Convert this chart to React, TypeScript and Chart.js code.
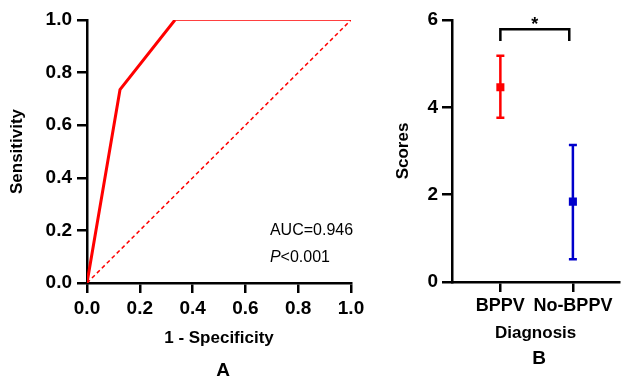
import React, { useEffect, useRef } from "react";
import { Chart, registerables } from "chart.js";

Chart.register(...registerables);

// ---- Panel A: ROC curve ----
const rocFpr = [0, 0.125, 0.333, 1.0];
const rocTpr = [0, 0.735, 1.0, 1.0];
const refLine = [0, 1];
const rocTicks = [0, 0.2, 0.4, 0.6, 0.8, 1.0];
const aucText = "AUC=0.946";
const pText = "<0.001";

// ---- Panel B: scores by diagnosis ----
const categories = ["BPPV", "No-BPPV"];
const means = [4.46, 1.84];
const upper = [5.18, 3.14];
const lower = [3.76, 0.52];
const groupColors = ["#ff0000", "#0000cc"];
const scoreTicks = [0, 2, 4, 6];
const bracketX = [0, 0.95];
const bracketY = [5.52, 5.79];
const sigMark = "*";

const FONT = '"Liberation Sans", Arial, sans-serif';

const annotA = {
  id: "annotA",
  afterDraw(chart: any) {
    const { ctx, scales } = chart;
    const x = scales.x, y = scales.y;
    ctx.save();
    ctx.fillStyle = "#000";
    ctx.textAlign = "left";
    ctx.textBaseline = "middle";
    const px = x.getPixelForValue(0.693);
    ctx.font = `16px ${FONT}`;
    ctx.fillText(aucText, px, y.getPixelForValue(0.198));
    const py = y.getPixelForValue(0.095);
    ctx.font = `italic 16px ${FONT}`;
    ctx.fillText("P", px, py);
    const w = ctx.measureText("P").width;
    ctx.font = `16px ${FONT}`;
    ctx.fillText(pText, px + w, py);
    ctx.restore();
  },
};

const errorBars = {
  id: "errorBars",
  beforeDatasetsDraw(chart: any) {
    const { ctx, scales } = chart;
    const x = scales.x, y = scales.y;
    ctx.save();
    categories.forEach((_, i) => {
      const px = x.getPixelForValue(i);
      const top = y.getPixelForValue(upper[i]);
      const bot = y.getPixelForValue(lower[i]);
      ctx.strokeStyle = groupColors[i];
      ctx.lineWidth = 2.5;
      ctx.beginPath();
      ctx.moveTo(px, top);
      ctx.lineTo(px, bot);
      ctx.moveTo(px - 4, top);
      ctx.lineTo(px + 4, top);
      ctx.moveTo(px - 4, bot);
      ctx.lineTo(px + 4, bot);
      ctx.stroke();
    });
    ctx.restore();
  },
  afterDraw(chart: any) {
    const { ctx, scales } = chart;
    const x = scales.x, y = scales.y;
    const x0 = x.getPixelForValue(bracketX[0]);
    const x1 = x.getPixelForValue(bracketX[1]);
    const yLow = y.getPixelForValue(bracketY[0]);
    const yHigh = y.getPixelForValue(bracketY[1]);
    ctx.save();
    ctx.strokeStyle = "#000";
    ctx.lineWidth = 2.5;
    ctx.lineJoin = "miter";
    ctx.beginPath();
    ctx.moveTo(x0, yLow);
    ctx.lineTo(x0, yHigh);
    ctx.lineTo(x1, yHigh);
    ctx.lineTo(x1, yLow);
    ctx.stroke();
    ctx.fillStyle = "#000";
    ctx.font = `bold 18px ${FONT}`;
    ctx.textAlign = "center";
    ctx.textBaseline = "alphabetic";
    ctx.fillText(sigMark, (x0 + x1) / 2, yHigh + 1);
    ctx.restore();
  },
};

const tickFont = { size: 19, weight: "bold" as const, family: FONT };
const titleFont = { size: 17, weight: "bold" as const, family: FONT };

export default function App() {
  const refA = useRef<HTMLCanvasElement>(null);
  const refB = useRef<HTMLCanvasElement>(null);

  useEffect(() => {
    document.body.style.margin = "0";
    Chart.defaults.font.family = FONT;

    const chartA = new Chart(refA.current as HTMLCanvasElement, {
      type: "scatter",
      data: {
        datasets: [
          {
            data: rocFpr.map((v, i) => ({ x: v, y: rocTpr[i] })),
            showLine: true,
            borderColor: "#ff0000",
            borderWidth: 3,
            pointRadius: 0,
            segment: {
              borderWidth: (c: any) => (c.p0.parsed.x >= 0.33 ? 1.5 : 3),
            },
          } as any,
          {
            data: refLine.map((v) => ({ x: v, y: v })),
            showLine: true,
            borderColor: "#ff0000",
            borderWidth: 1.5,
            borderDash: [4, 3],
            pointRadius: 0,
          },
        ],
      },
      options: {
        animation: false,
        responsive: false,
        devicePixelRatio: 1,
        layout: { padding: { top: 20, right: 29, left: 0, bottom: 0 } },
        plugins: { legend: { display: false }, tooltip: { enabled: false } },
        scales: {
          x: {
            type: "linear",
            min: 0,
            max: 1,
            afterFit: (s: any) => {
              s.height = 95;
            },
            afterBuildTicks: (s: any) => {
              s.ticks = rocTicks.map((v) => ({ value: v }));
            },
            ticks: {
              callback: (v: any) => Number(v).toFixed(1),
              color: "#000",
              font: tickFont,
              padding: 4,
              maxRotation: 0,
              autoSkip: false,
            },
            grid: { drawOnChartArea: false, tickLength: 10, color: "#000", lineWidth: 2.5 },
            border: { color: "#000", width: 2.5 },
            title: {
              display: true,
              text: "1 - Specificity",
              color: "#000",
              font: titleFont,
              padding: { top: 0, bottom: 29 },
            },
          },
          y: {
            type: "linear",
            min: 0,
            max: 1,
            afterFit: (s: any) => {
              s.width = 87;
            },
            afterBuildTicks: (s: any) => {
              s.ticks = rocTicks.map((v) => ({ value: v }));
            },
            ticks: {
              callback: (v: any) => Number(v).toFixed(1),
              color: "#000",
              font: tickFont,
              padding: 5,
              autoSkip: false,
            },
            grid: { drawOnChartArea: false, tickLength: 10, color: "#000", lineWidth: 2.5 },
            border: { color: "#000", width: 2.5 },
            title: {
              display: true,
              text: "Sensitivity",
              color: "#000",
              font: titleFont,
              padding: { top: 7, bottom: 0 },
            },
          },
        },
      },
      plugins: [annotA],
    });

    const chartB = new Chart(refB.current as HTMLCanvasElement, {
      type: "scatter",
      data: {
        datasets: [
          {
            data: categories.map((_, i) => ({ x: i, y: means[i] })),
            pointStyle: "rect",
            pointRadius: 5.7,
            pointBackgroundColor: groupColors,
            pointBorderColor: groupColors,
            pointBorderWidth: 0,
          },
        ],
      },
      options: {
        animation: false,
        responsive: false,
        devicePixelRatio: 1,
        layout: { padding: { top: 20, right: 0, left: 0, bottom: 0 } },
        plugins: { legend: { display: false }, tooltip: { enabled: false } },
        scales: {
          x: {
            type: "linear",
            min: -0.667,
            max: 1.64,
            afterFit: (s: any) => {
              s.height = 96;
            },
            afterBuildTicks: (s: any) => {
              s.ticks = categories.map((_, i) => ({ value: i }));
            },
            ticks: {
              callback: (v: any) => categories[Math.round(Number(v))],
              color: "#000",
              font: { size: 18, weight: "bold", family: FONT },
              padding: 3,
              maxRotation: 0,
              autoSkip: false,
            },
            grid: { drawOnChartArea: false, tickLength: 10, color: "#000", lineWidth: 2.5 },
            border: { color: "#000", width: 2.5 },
            title: {
              display: true,
              text: "Diagnosis",
              color: "#000",
              font: titleFont,
              padding: { top: 0, bottom: 34 },
            },
          },
          y: {
            type: "linear",
            min: 0,
            max: 6,
            afterFit: (s: any) => {
              s.width = 92;
            },
            afterBuildTicks: (s: any) => {
              s.ticks = scoreTicks.map((v) => ({ value: v }));
            },
            ticks: {
              color: "#000",
              font: tickFont,
              padding: 4,
              autoSkip: false,
            },
            grid: { drawOnChartArea: false, tickLength: 10, color: "#000", lineWidth: 2.5 },
            border: { color: "#000", width: 2.5 },
            title: {
              display: true,
              text: "Scores",
              color: "#000",
              font: titleFont,
              padding: { top: 33, bottom: 0 },
            },
          },
        },
      },
      plugins: [errorBars],
    });

    return () => {
      chartA.destroy();
      chartB.destroy();
    };
  }, []);

  const panelLabel: React.CSSProperties = {
    position: "absolute",
    width: 40,
    textAlign: "center",
    fontFamily: FONT,
    fontWeight: "bold",
    fontSize: 19,
    lineHeight: "19px",
    color: "#000",
  };

  return (
    <div
      style={{
        position: "fixed",
        left: 0,
        top: 0,
        width: 625,
        height: 378,
        background: "#fff",
        overflow: "hidden",
      }}
    >
      <canvas
        ref={refA}
        width={380}
        height={378}
        style={{ position: "absolute", left: 0, top: 0, width: 380, height: 378 }}
      />
      <canvas
        ref={refB}
        width={265}
        height={378}
        style={{ position: "absolute", left: 360, top: 0, width: 265, height: 378 }}
      />
      <div style={{ ...panelLabel, left: 203, top: 360 }}>A</div>
      <div style={{ ...panelLabel, left: 519, top: 348 }}>B</div>
    </div>
  );
}
